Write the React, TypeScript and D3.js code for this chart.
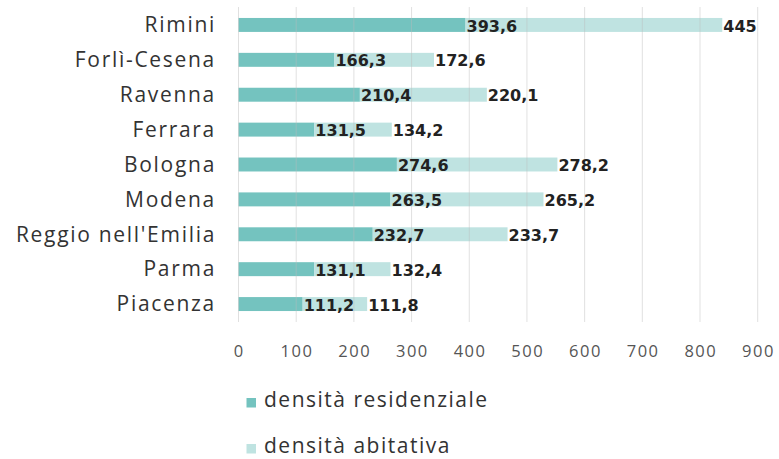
import React from "react";
import * as d3 from "d3";

const categories = ["Rimini", "Forlì-Cesena", "Ravenna", "Ferrara", "Bologna", "Modena", "Reggio nell'Emilia", "Parma", "Piacenza"];
const residenziale = [393.6, 166.3, 210.4, 131.5, 274.6, 263.5, 232.7, 131.1, 111.2];
const abitativa = [445, 172.6, 220.1, 134.2, 278.2, 265.2, 233.7, 132.4, 111.8];
const ticks = [0, 100, 200, 300, 400, 500, 600, 700, 800, 900];
const seriesNames = ["densità residenziale", "densità abitativa"];

const W = 779, H = 459;
const C1 = "#74c3bf";
const C2 = "#bfe3e1";
const FONT = "'Open Sans', 'Noto Sans', sans-serif";

const fmt = (v: number) => String(v).replace(".", ",");

export default function App() {
  const x = d3.scaleLinear().domain([0, 900]).range([238.5, 757.7]);
  const y = d3.scaleBand<string>().domain(categories).range([7.5, 321.5]).paddingInner(0.6).paddingOuter(0.3);
  const bw = y.bandwidth();
  return (
    <svg width={W} height={H} style={{ position: "absolute", left: 0, top: 0, background: "#fff" }} fontFamily={FONT}>
      {categories.map((c, i) => {
        const y0 = y(c)!;
        const r = residenziale[i];
        const a = abitativa[i];
        return (
          <g key={c}>
            <rect x={x(0)} y={y0} width={x(r) - x(0)} height={bw} fill={C1} />
            <rect x={x(r)} y={y0} width={x(r + a) - x(r)} height={bw} fill={C2} />
          </g>
        );
      })}
      {ticks.map((t) => (
        <g key={t}>
          <line x1={x(t)} x2={x(t)} y1={7} y2={322} stroke="#bbbbbb" strokeOpacity={0.45} strokeWidth={1} />
          <text x={x(t) + 0.8} y={356.7} textAnchor="middle" fontSize={16.5} letterSpacing={1.5} fill="#555">{t}</text>
        </g>
      ))}
      {categories.map((c, i) => {
        const cy = y(c)! + bw / 2;
        const r = residenziale[i];
        const a = abitativa[i];
        return (
          <g key={c + "l"}>
            <text x={216} y={cy + 7.3} textAnchor="end" fontSize={21} letterSpacing={1.7} fill="#333">{c}</text>
            <text x={x(r) + 1} y={cy + 6.6} fontSize={16} fontWeight={700} fill="#222" fontFamily="'DejaVu Sans', sans-serif">{fmt(r)}</text>
            <text x={x(r + a) + 1} y={cy + 6.6} fontSize={16} fontWeight={700} fill="#222" fontFamily="'DejaVu Sans', sans-serif">{fmt(a)}</text>
          </g>
        );
      })}
      {seriesNames.map((s, i) => (
        <g key={s}>
          <rect x={246.5} y={398 + i * 46} width={9.5} height={9.5} fill={i === 0 ? C1 : C2} />
          <text x={264} y={407.3 + i * 46} fontSize={21} letterSpacing={1.5} fill="#333">{s}</text>
        </g>
      ))}
    </svg>
  );
}
